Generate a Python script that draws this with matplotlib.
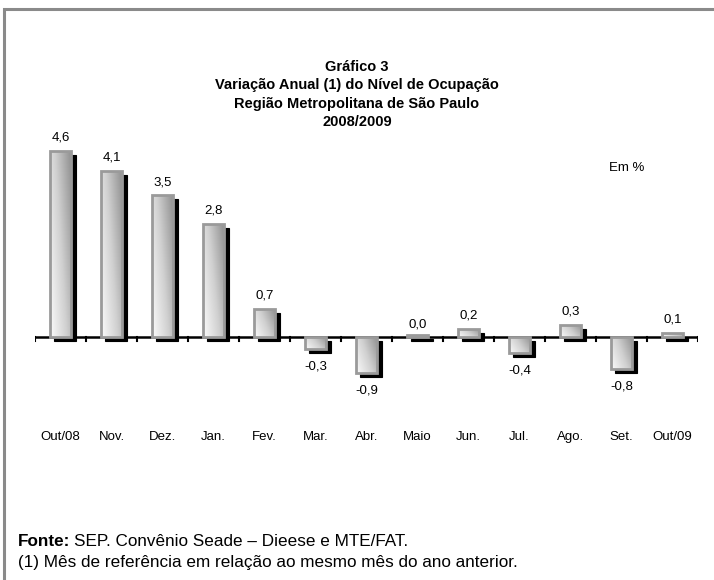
"""
Gráfico 3 - Variação anual do nível de ocupação, RMSP 2008/2009.
"""

import matplotlib
matplotlib.use("Agg")
import matplotlib.pyplot as plt
import numpy as np
from matplotlib.patches import Rectangle
from matplotlib.colors import LinearSegmentedColormap

plt.rcParams["font.family"] = ["Liberation Sans", "DejaVu Sans"]

months = ["Out/08", "Nov.", "Dez.", "Jan.", "Fev.", "Mar.", "Abr.",
          "Maio", "Jun.", "Jul.", "Ago.", "Set.", "Out/09"]
values = [4.6, 4.1, 3.5, 2.8, 0.7, -0.3, -0.9, 0.0, 0.2, -0.4, 0.3, -0.8, 0.1]
value_labels = ["4,6", "4,1", "3,5", "2,8", "0,7", "-0,3", "-0,9",
                "0,0", "0,2", "-0,4", "0,3", "-0,8", "0,1"]

title_lines = ["Gráfico 3",
               "Variação Anual (1) do Nível de Ocupação",
               "Região Metropolitana de São Paulo",
               "2008/2009"]
source_text = "SEP. Convênio Seade – Dieese e MTE/FAT."
note_text = "(1) Mês de referência em relação ao mesmo mês do ano anterior."

W, H, DPI = 714, 580, 100
fig = plt.figure(figsize=(W / DPI, H / DPI), dpi=DPI)

# outer frame
fig.patches.append(Rectangle((4 / W, -0.01), 1.02, (H - 9) / H + 0.01,
                             transform=fig.transFigure, fill=False,
                             edgecolor="#8a8a8a", linewidth=2.2, zorder=0))

# title
for i, line in enumerate(title_lines):
    fig.text(357 / W, 1 - (67 + 18.3 * i) / H, line, ha="center", va="center",
             fontsize=10.5, fontweight="bold")

ax = fig.add_axes([35 / W, (H - 420) / H, 663 / W, 320 / H])
ax.axis("off")

x = np.arange(len(months))
bw = 0.43
dx, dy = 0.085, -0.1
cmap = LinearSegmentedColormap.from_list("g", ["#fbfbfb", "#d0d0d0", "#8e8e8e"])
gx, gy = np.meshgrid(np.linspace(0, 1, 60), np.linspace(0, 1, 60))
grad = 0.65 * gx + 0.35 * gy

for xi, v in zip(x, values):
    h = v if abs(v) > 0.04 else 0.06
    ax.add_patch(Rectangle((xi - bw / 2 + dx, dy), bw, h, facecolor="black",
                           edgecolor="black", linewidth=0.8, zorder=1))
    bar = Rectangle((xi - bw / 2, 0), bw, h, facecolor="none",
                    edgecolor="#9a9a9a", linewidth=2.0, zorder=4)
    ax.add_patch(bar)
    img = ax.imshow(grad, cmap=cmap, extent=(xi - bw / 2, xi + bw / 2, min(0, h), max(0, h)),
                    origin="lower", aspect="auto", zorder=3, vmin=0, vmax=1)
    img.set_clip_path(bar)

ax.set_xlim(-0.5, len(months) - 0.5)
ax.set_ylim(-2.05, 5.85)

# baseline and ticks
ax.plot([-0.5, len(months) - 0.5], [0, 0], color="black", linewidth=1.8, zorder=2,
        solid_capstyle="butt")
for b in np.arange(len(months) + 1) - 0.5:
    ax.plot([b, b], [0, -0.1], color="black", linewidth=1.5, zorder=2)

for xi, v, lab in zip(x, values, value_labels):
    if v >= 0:
        ax.annotate(lab, (xi, v), xytext=(0, 5), textcoords="offset points",
                    ha="center", va="bottom", fontsize=9.5)
    else:
        ax.annotate(lab, (xi, v + dy), xytext=(0, -5), textcoords="offset points",
                    ha="center", va="top", fontsize=9.5)

for xi, m in zip(x, months):
    ax.annotate(m, (xi, 0), xytext=(0, -100), textcoords="offset pixels",
                ha="center", va="center", fontsize=9.5)

fig.text(627 / W, 1 - 168 / H, "Em %", ha="center", va="center", fontsize=9.5)

# footer, sized so the note line spans about 500 px like the original
note = fig.text(18 / W, 1 - 562 / H, note_text, ha="left", va="center", fontsize=10)
renderer = fig.canvas.get_renderer()
fs = 10 * 500 / note.get_window_extent(renderer).width
note.set_fontsize(fs)
fonte = fig.text(18 / W, 1 - 541 / H, "Fonte:", ha="left", va="center", fontsize=fs,
                 fontweight="bold")
fx = fonte.get_window_extent(renderer).x1 + 4
fig.text(fx / W, 1 - 541 / H, source_text, ha="left", va="center", fontsize=fs)

fig.savefig("out.png", dpi=DPI)
